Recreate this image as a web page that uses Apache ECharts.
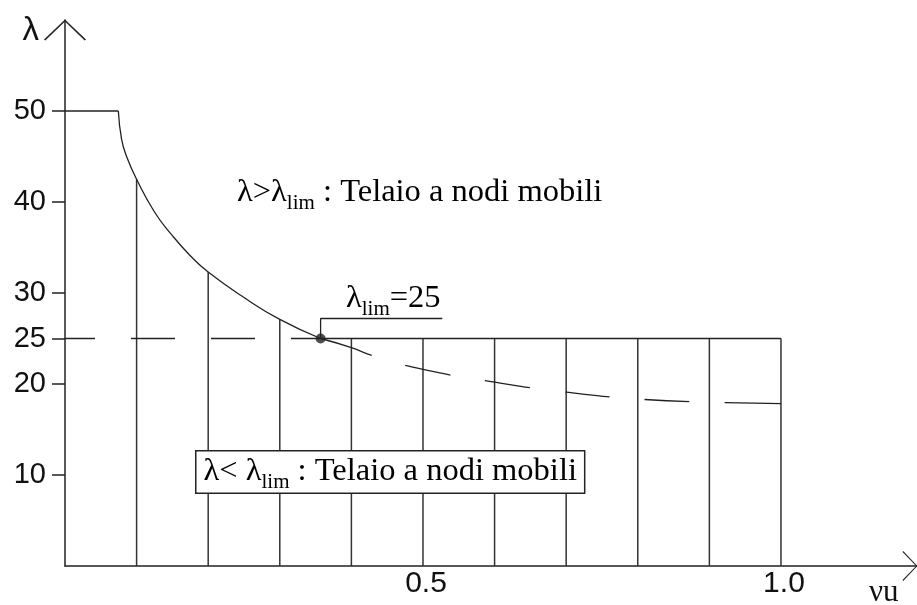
<!DOCTYPE html>
<html>
<head>
<meta charset="utf-8">
<script src="https://cdn.jsdelivr.net/npm/echarts@6/dist/echarts.min.js"></script>
<style>
  html, body { margin: 0; padding: 0; background: #fff; }
  #container { width: 917px; height: 605px; }
</style>
</head>
<body>
<div id="container"></div>
<script>
// values
var solidNu = [0.0745, 0.079, 0.086, 0.1, 0.125, 0.15, 0.175, 0.2, 0.25, 0.3, 0.357];
var solidLambda = [50, 46.9, 45.0, 42.5, 38.9, 36.3, 34.1, 32.3, 29.5, 27.1, 25];
var dashNu = [0.357, 0.4, 0.43, 0.5, 0.6, 0.7, 0.8, 0.9, 1.0];
var dashLambda = [25, 24.0, 23.1, 21.6, 20.2, 19.1, 18.35, 18.0, 17.85];
var gridNu = [0.1, 0.2, 0.3, 0.4, 0.5, 0.6, 0.7, 0.8, 0.9, 1.0];
var gridTop = [42.5, 32.3, 27.1, 25, 25, 25, 25, 25, 25, 25];
var yTicks = [10, 20, 25, 30, 40, 50];
var xTicks = [0.5, 1.0];
var lambdaMax = 50;
var lambdaLim = 25;
var nuLim = 0.357;
var leaderTop = 27.2;
var leaderEnd = 0.527;

window.onload = function(){
    var dom = document.getElementById("container");
    var myChart = echarts.init(dom);
    var ink = '#222';
    var serif = 'Liberation Serif';
    var sans = 'Liberation Sans';
    var chevron = 'path://M0,21 L22,0 L44,21 L42.6,22 L22,2 L1.4,22 Z';

    function pairs(xs, ys) {
        return xs.map(function (x, i) { return [x, ys[i]]; });
    }

    // main text + lowered "lim" subscript
    var richSub = {
        m: { fontFamily: serif, fontSize: 32.5, lineHeight: 34, verticalAlign: 'top', color: '#111' },
        s: { fontFamily: serif, fontSize: 21, lineHeight: 21, verticalAlign: 'top', padding: [17, 0, 0, 0], color: '#111' }
    };

    var option = {
        animation: false,
        grid: { left: 65, right: 0, top: 20, bottom: 39, outerBoundsMode: 'none' },
        xAxis: {
            type: 'value',
            min: 0,
            max: 1.19,
            name: 'νu',
            nameLocation: 'end',
            nameGap: -48,
            nameTextStyle: { fontFamily: serif, fontSize: 31, color: '#111', align: 'left', verticalAlign: 'top', padding: [11, 0, 0, 0] },
            splitLine: { show: false },
            axisTick: { show: false },
            axisLine: {
                lineStyle: { color: ink, width: 1.5 },
                symbol: ['none', chevron],
                symbolSize: [40, 15],
                symbolOffset: [0, -7]
            },
            axisLabel: {
                customValues: xTicks,
                formatter: function (v) { return v.toFixed(1); },
                fontFamily: sans, fontSize: 30, color: '#111', margin: 3,
                padding: [0, 0, 0, 6]
            }
        },
        yAxis: {
            type: 'value',
            min: 0,
            max: 60,
            name: 'λ',
            nameLocation: 'end',
            nameGap: -27,
            nameTextStyle: { fontFamily: sans, fontSize: 33, color: '#111', align: 'right', verticalAlign: 'bottom', padding: [0, 26, 0, 0] },
            splitLine: { show: false },
            axisLine: {
                lineStyle: { color: ink, width: 1.5 },
                symbol: ['none', chevron],
                symbolSize: [44, 21],
                symbolOffset: [0, -10]
            },
            axisTick: { customValues: yTicks, length: 13, lineStyle: { color: ink, width: 1.5 } },
            axisLabel: {
                customValues: yTicks,
                fontFamily: sans, fontSize: 29, color: '#111', margin: 19
            }
        },
        graphic: [{
            type: 'text', left: 237, top: 176, z: 100,
            style: { text: '{m|λ>λ}{s|lim}{m| : Telaio a nodi mobili}', rich: richSub }
        }, {
            type: 'text', left: 195, top: 450, z: 100,
            style: {
                text: '{m|λ< λ}{s|lim}{m| : Telaio a nodi mobili}', rich: richSub,
                backgroundColor: '#fff', borderColor: ink, borderWidth: 1.5, padding: [3, 7, 4, 7]
            }
        }, {
            type: 'text', left: 346, top: 282, z: 100,
            style: { text: '{m|λ}{s|lim}{m|=25}', rich: richSub }
        }],
        series: [{
            name: 'grid lines',
            type: 'custom',
            data: pairs(gridNu, gridTop),
            renderItem: function (params, api) {
                var p0 = api.coord([api.value(0), 0]);
                var p1 = api.coord([api.value(0), api.value(1)]);
                return {
                    type: 'line',
                    shape: { x1: p0[0], y1: p0[1], x2: p1[0], y2: p1[1] },
                    style: { stroke: '#333', lineWidth: 1.5 }
                };
            }
        }, {
            name: 'cap 50',
            type: 'line',
            data: [[0, lambdaMax], [solidNu[0], lambdaMax]],
            symbol: 'none',
            lineStyle: { color: ink, width: 1.5 }
        }, {
            name: 'curve',
            type: 'line',
            data: pairs(solidNu, solidLambda),
            smooth: true,
            symbol: 'none',
            lineStyle: { color: ink, width: 1.3 }
        }, {
            name: 'curve dashed',
            type: 'line',
            data: pairs(dashNu, dashLambda),
            smooth: true,
            symbol: 'none',
            // hand-drawn dashes: first one longer, last one runs to the end
            lineStyle: { color: ink, width: 1.3, type: [54, 35, 46, 35, 45.5, 36, 44.3, 35, 45, 35, 80] }
        }, {
            name: 'lim dashed',
            type: 'line',
            data: [[0, lambdaLim], [nuLim, lambdaLim]],
            symbol: 'none',
            lineStyle: { color: ink, width: 1.5, type: [44, 36], dashOffset: 14 }
        }, {
            name: 'lim solid',
            type: 'line',
            data: [[nuLim, lambdaLim], [1.0, lambdaLim]],
            symbol: 'none',
            lineStyle: { color: ink, width: 1.5 }
        }, {
            name: 'leader',
            type: 'line',
            data: [[nuLim, lambdaLim], [nuLim, leaderTop], [leaderEnd, leaderTop]],
            symbol: 'none',
            lineStyle: { color: ink, width: 1.3 }
        }, {
            name: 'lim point',
            type: 'scatter',
            data: [[nuLim, lambdaLim]],
            symbolSize: 10,
            itemStyle: { color: ink },
            z: 5
        }]
    };
    myChart.setOption(option, true);
}
</script>
</body>
</html>
